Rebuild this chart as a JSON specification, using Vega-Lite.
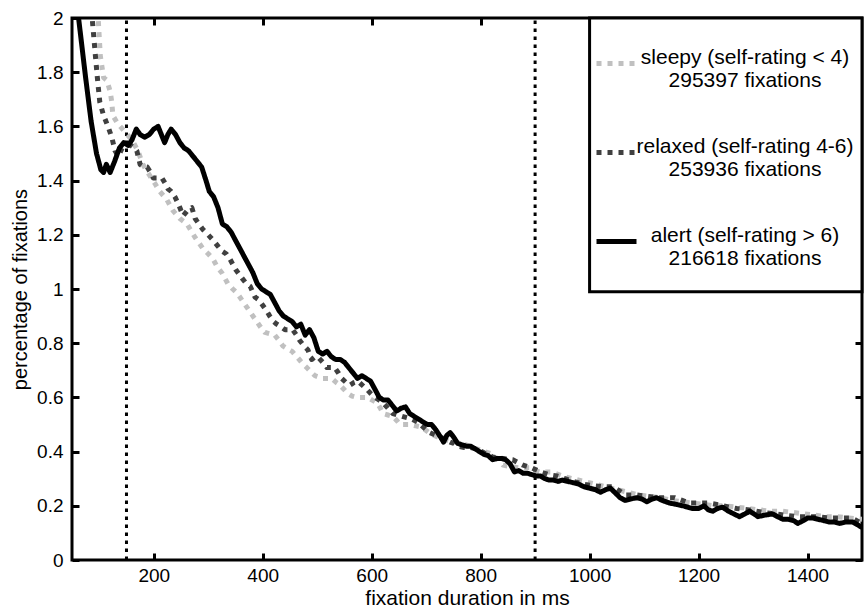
{
  "$schema": "https://vega.github.io/schema/vega-lite/v6.json",
  "width": 790,
  "height": 542,
  "autosize": {"type": "none"},
  "padding": {"left": 72, "top": 18, "right": 3, "bottom": 50},
  "background": "white",
  "config": {
    "font": "Liberation Sans",
    "view": {"stroke": "black", "strokeWidth": 3},
    "axis": {"grid": false, "domain": false, "ticks": true, "tickOpacity": 1, "tickColor": "#000000", "tickWidth": 3, "tickSize": 7, "offset": -7, "zindex": 1, "labelColor": "black", "labelFontSize": 19, "titleColor": "black", "titleFontSize": 20, "titleFontWeight": "normal", "labelFont": "Liberation Sans", "titleFont": "Liberation Sans"}
  },
  "datasets": {
    "curves": [
      {"series":"sleepy","ms":92,"pct":2.15},{"series":"sleepy","ms":98,"pct":2.0},{"series":"sleepy","ms":102,"pct":1.86},{"series":"sleepy","ms":108,"pct":1.78},{"series":"sleepy","ms":114,"pct":1.77},{"series":"sleepy","ms":120,"pct":1.73},{"series":"sleepy","ms":123,"pct":1.69},{"series":"sleepy","ms":125,"pct":1.64},{"series":"sleepy","ms":134,"pct":1.61},{"series":"sleepy","ms":147,"pct":1.58},{"series":"sleepy","ms":160,"pct":1.55},{"series":"sleepy","ms":171,"pct":1.51},{"series":"sleepy","ms":180,"pct":1.46},{"series":"sleepy","ms":189,"pct":1.43},{"series":"sleepy","ms":202,"pct":1.39},{"series":"sleepy","ms":211,"pct":1.36},{"series":"sleepy","ms":224,"pct":1.33},{"series":"sleepy","ms":235,"pct":1.29},{"series":"sleepy","ms":248,"pct":1.26},{"series":"sleepy","ms":261,"pct":1.24},{"series":"sleepy","ms":276,"pct":1.19},{"series":"sleepy","ms":290,"pct":1.15},{"series":"sleepy","ms":300,"pct":1.13},{"series":"sleepy","ms":309,"pct":1.11},{"series":"sleepy","ms":317,"pct":1.08},{"series":"sleepy","ms":325,"pct":1.06},{"series":"sleepy","ms":336,"pct":1.02},{"series":"sleepy","ms":345,"pct":1.0},{"series":"sleepy","ms":353,"pct":0.985},{"series":"sleepy","ms":365,"pct":0.95},{"series":"sleepy","ms":377,"pct":0.915},{"series":"sleepy","ms":389,"pct":0.88},{"series":"sleepy","ms":396,"pct":0.86},{"series":"sleepy","ms":404,"pct":0.84},{"series":"sleepy","ms":413,"pct":0.835},{"series":"sleepy","ms":422,"pct":0.83},{"series":"sleepy","ms":430,"pct":0.81},{"series":"sleepy","ms":437,"pct":0.79},{"series":"sleepy","ms":445,"pct":0.78},{"series":"sleepy","ms":454,"pct":0.77},{"series":"sleepy","ms":465,"pct":0.745},{"series":"sleepy","ms":473,"pct":0.725},{"series":"sleepy","ms":481,"pct":0.71},{"series":"sleepy","ms":488,"pct":0.695},{"series":"sleepy","ms":496,"pct":0.68},{"series":"sleepy","ms":503,"pct":0.675},{"series":"sleepy","ms":510,"pct":0.67},{"series":"sleepy","ms":518,"pct":0.67},{"series":"sleepy","ms":527,"pct":0.67},{"series":"sleepy","ms":535,"pct":0.655},{"series":"sleepy","ms":542,"pct":0.645},{"series":"sleepy","ms":549,"pct":0.63},{"series":"sleepy","ms":556,"pct":0.615},{"series":"sleepy","ms":564,"pct":0.605},{"series":"sleepy","ms":573,"pct":0.6},{"series":"sleepy","ms":583,"pct":0.6},{"series":"sleepy","ms":593,"pct":0.6},{"series":"sleepy","ms":601,"pct":0.59},{"series":"sleepy","ms":610,"pct":0.58},{"series":"sleepy","ms":616,"pct":0.56},{"series":"sleepy","ms":621,"pct":0.54},{"series":"sleepy","ms":630,"pct":0.535},{"series":"sleepy","ms":639,"pct":0.53},{"series":"sleepy","ms":646,"pct":0.515},{"series":"sleepy","ms":652,"pct":0.5},{"series":"sleepy","ms":661,"pct":0.5},{"series":"sleepy","ms":670,"pct":0.5},{"series":"sleepy","ms":681,"pct":0.495},{"series":"sleepy","ms":692,"pct":0.49},{"series":"sleepy","ms":705,"pct":0.47},{"series":"sleepy","ms":720,"pct":0.455},{"series":"sleepy","ms":733,"pct":0.445},{"series":"sleepy","ms":747,"pct":0.435},{"series":"sleepy","ms":756,"pct":0.435},{"series":"sleepy","ms":766,"pct":0.43},{"series":"sleepy","ms":780,"pct":0.42},{"series":"sleepy","ms":793,"pct":0.41},{"series":"sleepy","ms":807,"pct":0.4},{"series":"sleepy","ms":822,"pct":0.39},{"series":"sleepy","ms":832,"pct":0.37},{"series":"sleepy","ms":841,"pct":0.35},{"series":"sleepy","ms":855,"pct":0.345},{"series":"sleepy","ms":870,"pct":0.34},{"series":"sleepy","ms":890,"pct":0.34},{"series":"sleepy","ms":900,"pct":0.33},{"series":"sleepy","ms":908,"pct":0.325},{"series":"sleepy","ms":930,"pct":0.325},{"series":"sleepy","ms":950,"pct":0.31},{"series":"sleepy","ms":969,"pct":0.3},{"series":"sleepy","ms":990,"pct":0.29},{"series":"sleepy","ms":1010,"pct":0.28},{"series":"sleepy","ms":1030,"pct":0.27},{"series":"sleepy","ms":1050,"pct":0.26},{"series":"sleepy","ms":1070,"pct":0.25},{"series":"sleepy","ms":1090,"pct":0.24},{"series":"sleepy","ms":1110,"pct":0.235},{"series":"sleepy","ms":1130,"pct":0.23},{"series":"sleepy","ms":1150,"pct":0.22},{"series":"sleepy","ms":1170,"pct":0.215},{"series":"sleepy","ms":1190,"pct":0.21},{"series":"sleepy","ms":1210,"pct":0.205},{"series":"sleepy","ms":1230,"pct":0.2},{"series":"sleepy","ms":1250,"pct":0.2},{"series":"sleepy","ms":1270,"pct":0.195},{"series":"sleepy","ms":1290,"pct":0.19},{"series":"sleepy","ms":1312,"pct":0.185},{"series":"sleepy","ms":1333,"pct":0.18},{"series":"sleepy","ms":1354,"pct":0.18},{"series":"sleepy","ms":1375,"pct":0.175},{"series":"sleepy","ms":1395,"pct":0.17},{"series":"sleepy","ms":1415,"pct":0.165},{"series":"sleepy","ms":1435,"pct":0.16},{"series":"sleepy","ms":1454,"pct":0.16},{"series":"sleepy","ms":1475,"pct":0.155},{"series":"sleepy","ms":1500,"pct":0.15},

      {"series":"relaxed","ms":80,"pct":2.15},{"series":"relaxed","ms":87,"pct":2.0},{"series":"relaxed","ms":93,"pct":1.86},{"series":"relaxed","ms":97,"pct":1.77},{"series":"relaxed","ms":101,"pct":1.69},{"series":"relaxed","ms":108,"pct":1.64},{"series":"relaxed","ms":116,"pct":1.6},{"series":"relaxed","ms":123,"pct":1.56},{"series":"relaxed","ms":129,"pct":1.51},{"series":"relaxed","ms":135,"pct":1.49},{"series":"relaxed","ms":142,"pct":1.52},{"series":"relaxed","ms":150,"pct":1.53},{"series":"relaxed","ms":158,"pct":1.53},{"series":"relaxed","ms":165,"pct":1.52},{"series":"relaxed","ms":169,"pct":1.51},{"series":"relaxed","ms":175,"pct":1.46},{"series":"relaxed","ms":182,"pct":1.45},{"series":"relaxed","ms":188,"pct":1.45},{"series":"relaxed","ms":194,"pct":1.43},{"series":"relaxed","ms":199,"pct":1.41},{"series":"relaxed","ms":207,"pct":1.41},{"series":"relaxed","ms":215,"pct":1.41},{"series":"relaxed","ms":221,"pct":1.39},{"series":"relaxed","ms":226,"pct":1.37},{"series":"relaxed","ms":232,"pct":1.36},{"series":"relaxed","ms":239,"pct":1.34},{"series":"relaxed","ms":246,"pct":1.31},{"series":"relaxed","ms":254,"pct":1.27},{"series":"relaxed","ms":262,"pct":1.29},{"series":"relaxed","ms":270,"pct":1.3},{"series":"relaxed","ms":276,"pct":1.26},{"series":"relaxed","ms":283,"pct":1.24},{"series":"relaxed","ms":290,"pct":1.22},{"series":"relaxed","ms":300,"pct":1.2},{"series":"relaxed","ms":309,"pct":1.18},{"series":"relaxed","ms":317,"pct":1.16},{"series":"relaxed","ms":325,"pct":1.14},{"series":"relaxed","ms":333,"pct":1.13},{"series":"relaxed","ms":340,"pct":1.11},{"series":"relaxed","ms":351,"pct":1.07},{"series":"relaxed","ms":362,"pct":1.04},{"series":"relaxed","ms":370,"pct":1.02},{"series":"relaxed","ms":377,"pct":1.01},{"series":"relaxed","ms":386,"pct":0.97},{"series":"relaxed","ms":393,"pct":0.96},{"series":"relaxed","ms":400,"pct":0.94},{"series":"relaxed","ms":407,"pct":0.92},{"series":"relaxed","ms":413,"pct":0.9},{"series":"relaxed","ms":420,"pct":0.88},{"series":"relaxed","ms":426,"pct":0.87},{"series":"relaxed","ms":434,"pct":0.86},{"series":"relaxed","ms":441,"pct":0.85},{"series":"relaxed","ms":448,"pct":0.85},{"series":"relaxed","ms":455,"pct":0.85},{"series":"relaxed","ms":462,"pct":0.83},{"series":"relaxed","ms":468,"pct":0.81},{"series":"relaxed","ms":476,"pct":0.79},{"series":"relaxed","ms":483,"pct":0.775},{"series":"relaxed","ms":490,"pct":0.74},{"series":"relaxed","ms":496,"pct":0.75},{"series":"relaxed","ms":501,"pct":0.75},{"series":"relaxed","ms":510,"pct":0.73},{"series":"relaxed","ms":518,"pct":0.71},{"series":"relaxed","ms":525,"pct":0.71},{"series":"relaxed","ms":532,"pct":0.71},{"series":"relaxed","ms":539,"pct":0.69},{"series":"relaxed","ms":545,"pct":0.67},{"series":"relaxed","ms":553,"pct":0.655},{"series":"relaxed","ms":560,"pct":0.645},{"series":"relaxed","ms":568,"pct":0.655},{"series":"relaxed","ms":575,"pct":0.66},{"series":"relaxed","ms":583,"pct":0.645},{"series":"relaxed","ms":591,"pct":0.63},{"series":"relaxed","ms":598,"pct":0.615},{"series":"relaxed","ms":606,"pct":0.6},{"series":"relaxed","ms":614,"pct":0.59},{"series":"relaxed","ms":621,"pct":0.58},{"series":"relaxed","ms":630,"pct":0.56},{"series":"relaxed","ms":639,"pct":0.54},{"series":"relaxed","ms":648,"pct":0.535},{"series":"relaxed","ms":656,"pct":0.53},{"series":"relaxed","ms":665,"pct":0.525},{"series":"relaxed","ms":674,"pct":0.52},{"series":"relaxed","ms":684,"pct":0.51},{"series":"relaxed","ms":695,"pct":0.49},{"series":"relaxed","ms":707,"pct":0.47},{"series":"relaxed","ms":718,"pct":0.46},{"series":"relaxed","ms":730,"pct":0.45},{"series":"relaxed","ms":744,"pct":0.435},{"series":"relaxed","ms":751,"pct":0.43},{"series":"relaxed","ms":758,"pct":0.42},{"series":"relaxed","ms":770,"pct":0.415},{"series":"relaxed","ms":781,"pct":0.415},{"series":"relaxed","ms":793,"pct":0.41},{"series":"relaxed","ms":807,"pct":0.395},{"series":"relaxed","ms":822,"pct":0.38},{"series":"relaxed","ms":840,"pct":0.375},{"series":"relaxed","ms":859,"pct":0.37},{"series":"relaxed","ms":868,"pct":0.36},{"series":"relaxed","ms":878,"pct":0.35},{"series":"relaxed","ms":886,"pct":0.345},{"series":"relaxed","ms":894,"pct":0.34},{"series":"relaxed","ms":910,"pct":0.325},{"series":"relaxed","ms":925,"pct":0.315},{"series":"relaxed","ms":940,"pct":0.31},{"series":"relaxed","ms":955,"pct":0.3},{"series":"relaxed","ms":970,"pct":0.29},{"series":"relaxed","ms":988,"pct":0.28},{"series":"relaxed","ms":1005,"pct":0.275},{"series":"relaxed","ms":1024,"pct":0.27},{"series":"relaxed","ms":1043,"pct":0.27},{"series":"relaxed","ms":1055,"pct":0.255},{"series":"relaxed","ms":1065,"pct":0.24},{"series":"relaxed","ms":1087,"pct":0.24},{"series":"relaxed","ms":1107,"pct":0.235},{"series":"relaxed","ms":1125,"pct":0.23},{"series":"relaxed","ms":1142,"pct":0.23},{"series":"relaxed","ms":1156,"pct":0.23},{"series":"relaxed","ms":1170,"pct":0.22},{"series":"relaxed","ms":1184,"pct":0.21},{"series":"relaxed","ms":1200,"pct":0.21},{"series":"relaxed","ms":1220,"pct":0.21},{"series":"relaxed","ms":1245,"pct":0.2},{"series":"relaxed","ms":1270,"pct":0.19},{"series":"relaxed","ms":1294,"pct":0.185},{"series":"relaxed","ms":1320,"pct":0.175},{"series":"relaxed","ms":1343,"pct":0.17},{"series":"relaxed","ms":1360,"pct":0.165},{"series":"relaxed","ms":1380,"pct":0.16},{"series":"relaxed","ms":1400,"pct":0.16},{"series":"relaxed","ms":1419,"pct":0.16},{"series":"relaxed","ms":1440,"pct":0.155},{"series":"relaxed","ms":1459,"pct":0.155},{"series":"relaxed","ms":1481,"pct":0.155},{"series":"relaxed","ms":1500,"pct":0.135},

      {"series":"alert","ms":55,"pct":2.12},{"series":"alert","ms":65,"pct":1.95},{"series":"alert","ms":75,"pct":1.78},{"series":"alert","ms":85,"pct":1.62},{"series":"alert","ms":95,"pct":1.5},{"series":"alert","ms":103,"pct":1.44},{"series":"alert","ms":108,"pct":1.43},{"series":"alert","ms":113,"pct":1.46},{"series":"alert","ms":120,"pct":1.43},{"series":"alert","ms":128,"pct":1.47},{"series":"alert","ms":137,"pct":1.52},{"series":"alert","ms":145,"pct":1.54},{"series":"alert","ms":153,"pct":1.53},{"series":"alert","ms":160,"pct":1.55},{"series":"alert","ms":168,"pct":1.59},{"series":"alert","ms":175,"pct":1.57},{"series":"alert","ms":183,"pct":1.56},{"series":"alert","ms":192,"pct":1.57},{"series":"alert","ms":200,"pct":1.59},{"series":"alert","ms":208,"pct":1.6},{"series":"alert","ms":214,"pct":1.57},{"series":"alert","ms":220,"pct":1.54},{"series":"alert","ms":226,"pct":1.57},{"series":"alert","ms":232,"pct":1.59},{"series":"alert","ms":240,"pct":1.57},{"series":"alert","ms":248,"pct":1.54},{"series":"alert","ms":256,"pct":1.52},{"series":"alert","ms":264,"pct":1.51},{"series":"alert","ms":272,"pct":1.49},{"series":"alert","ms":280,"pct":1.47},{"series":"alert","ms":288,"pct":1.45},{"series":"alert","ms":296,"pct":1.4},{"series":"alert","ms":302,"pct":1.36},{"series":"alert","ms":310,"pct":1.34},{"series":"alert","ms":318,"pct":1.3},{"series":"alert","ms":326,"pct":1.24},{"series":"alert","ms":334,"pct":1.23},{"series":"alert","ms":342,"pct":1.21},{"series":"alert","ms":350,"pct":1.18},{"series":"alert","ms":358,"pct":1.15},{"series":"alert","ms":366,"pct":1.12},{"series":"alert","ms":374,"pct":1.09},{"series":"alert","ms":382,"pct":1.06},{"series":"alert","ms":390,"pct":1.02},{"series":"alert","ms":398,"pct":1.0},{"series":"alert","ms":406,"pct":0.99},{"series":"alert","ms":414,"pct":0.98},{"series":"alert","ms":422,"pct":0.95},{"series":"alert","ms":430,"pct":0.92},{"series":"alert","ms":438,"pct":0.9},{"series":"alert","ms":446,"pct":0.89},{"series":"alert","ms":454,"pct":0.88},{"series":"alert","ms":462,"pct":0.86},{"series":"alert","ms":470,"pct":0.87},{"series":"alert","ms":478,"pct":0.83},{"series":"alert","ms":486,"pct":0.85},{"series":"alert","ms":494,"pct":0.82},{"series":"alert","ms":502,"pct":0.77},{"series":"alert","ms":510,"pct":0.76},{"series":"alert","ms":518,"pct":0.77},{"series":"alert","ms":526,"pct":0.75},{"series":"alert","ms":534,"pct":0.74},{"series":"alert","ms":542,"pct":0.74},{"series":"alert","ms":550,"pct":0.73},{"series":"alert","ms":558,"pct":0.71},{"series":"alert","ms":566,"pct":0.69},{"series":"alert","ms":574,"pct":0.67},{"series":"alert","ms":582,"pct":0.68},{"series":"alert","ms":590,"pct":0.67},{"series":"alert","ms":598,"pct":0.66},{"series":"alert","ms":606,"pct":0.63},{"series":"alert","ms":614,"pct":0.6},{"series":"alert","ms":622,"pct":0.59},{"series":"alert","ms":630,"pct":0.59},{"series":"alert","ms":638,"pct":0.57},{"series":"alert","ms":646,"pct":0.55},{"series":"alert","ms":654,"pct":0.56},{"series":"alert","ms":662,"pct":0.565},{"series":"alert","ms":670,"pct":0.54},{"series":"alert","ms":678,"pct":0.53},{"series":"alert","ms":686,"pct":0.52},{"series":"alert","ms":694,"pct":0.51},{"series":"alert","ms":702,"pct":0.5},{"series":"alert","ms":710,"pct":0.5},{"series":"alert","ms":718,"pct":0.48},{"series":"alert","ms":726,"pct":0.455},{"series":"alert","ms":732,"pct":0.435},{"series":"alert","ms":738,"pct":0.46},{"series":"alert","ms":744,"pct":0.47},{"series":"alert","ms":750,"pct":0.455},{"series":"alert","ms":758,"pct":0.43},{"series":"alert","ms":766,"pct":0.425},{"series":"alert","ms":774,"pct":0.42},{"series":"alert","ms":782,"pct":0.42},{"series":"alert","ms":790,"pct":0.41},{"series":"alert","ms":798,"pct":0.4},{"series":"alert","ms":806,"pct":0.39},{"series":"alert","ms":814,"pct":0.385},{"series":"alert","ms":822,"pct":0.37},{"series":"alert","ms":830,"pct":0.375},{"series":"alert","ms":838,"pct":0.375},{"series":"alert","ms":846,"pct":0.37},{"series":"alert","ms":854,"pct":0.355},{"series":"alert","ms":862,"pct":0.325},{"series":"alert","ms":870,"pct":0.33},{"series":"alert","ms":878,"pct":0.32},{"series":"alert","ms":886,"pct":0.32},{"series":"alert","ms":894,"pct":0.315},{"series":"alert","ms":902,"pct":0.31},{"series":"alert","ms":910,"pct":0.31},{"series":"alert","ms":918,"pct":0.3},{"series":"alert","ms":926,"pct":0.295},{"series":"alert","ms":934,"pct":0.295},{"series":"alert","ms":942,"pct":0.29},{"series":"alert","ms":950,"pct":0.295},{"series":"alert","ms":960,"pct":0.29},{"series":"alert","ms":970,"pct":0.285},{"series":"alert","ms":980,"pct":0.28},{"series":"alert","ms":990,"pct":0.27},{"series":"alert","ms":1000,"pct":0.265},{"series":"alert","ms":1010,"pct":0.26},{"series":"alert","ms":1020,"pct":0.25},{"series":"alert","ms":1030,"pct":0.26},{"series":"alert","ms":1038,"pct":0.265},{"series":"alert","ms":1046,"pct":0.25},{"series":"alert","ms":1056,"pct":0.23},{"series":"alert","ms":1065,"pct":0.22},{"series":"alert","ms":1075,"pct":0.225},{"series":"alert","ms":1087,"pct":0.23},{"series":"alert","ms":1096,"pct":0.225},{"series":"alert","ms":1105,"pct":0.215},{"series":"alert","ms":1115,"pct":0.225},{"series":"alert","ms":1123,"pct":0.23},{"series":"alert","ms":1133,"pct":0.22},{"series":"alert","ms":1147,"pct":0.21},{"series":"alert","ms":1160,"pct":0.205},{"series":"alert","ms":1171,"pct":0.2},{"series":"alert","ms":1180,"pct":0.195},{"series":"alert","ms":1189,"pct":0.19},{"series":"alert","ms":1200,"pct":0.19},{"series":"alert","ms":1210,"pct":0.2},{"series":"alert","ms":1218,"pct":0.185},{"series":"alert","ms":1226,"pct":0.18},{"series":"alert","ms":1235,"pct":0.19},{"series":"alert","ms":1244,"pct":0.195},{"series":"alert","ms":1255,"pct":0.18},{"series":"alert","ms":1265,"pct":0.17},{"series":"alert","ms":1275,"pct":0.16},{"series":"alert","ms":1285,"pct":0.17},{"series":"alert","ms":1294,"pct":0.18},{"series":"alert","ms":1302,"pct":0.17},{"series":"alert","ms":1309,"pct":0.16},{"series":"alert","ms":1320,"pct":0.165},{"series":"alert","ms":1336,"pct":0.17},{"series":"alert","ms":1345,"pct":0.16},{"series":"alert","ms":1355,"pct":0.15},{"series":"alert","ms":1365,"pct":0.15},{"series":"alert","ms":1375,"pct":0.145},{"series":"alert","ms":1382,"pct":0.135},{"series":"alert","ms":1392,"pct":0.145},{"series":"alert","ms":1400,"pct":0.155},{"series":"alert","ms":1410,"pct":0.155},{"series":"alert","ms":1420,"pct":0.15},{"series":"alert","ms":1430,"pct":0.145},{"series":"alert","ms":1440,"pct":0.14},{"series":"alert","ms":1450,"pct":0.14},{"series":"alert","ms":1459,"pct":0.135},{"series":"alert","ms":1470,"pct":0.14},{"series":"alert","ms":1483,"pct":0.14},{"series":"alert","ms":1492,"pct":0.13},{"series":"alert","ms":1500,"pct":0.12}
    ],
    "markers": [{"ms": 150}, {"ms": 900}],
    "box": [{"name": "legend"}]
  },
  "resolve": {"axis": {"x": "independent", "y": "independent"}},
  "layer": [
    {
      "data": {"name": "markers"},
      "mark": {"type": "rule", "color": "black", "strokeWidth": 3, "strokeDash": [3.5, 4.5]},
      "encoding": {
        "x": {"field": "ms", "type": "quantitative", "scale": {"domain": [50, 1500], "nice": false, "zero": false},
              "axis": {"orient": "bottom", "values": [200, 400, 600, 800, 1000, 1200, 1400], "format": "d", "labelPadding": 6, "title": "fixation duration in ms", "titleFontSize": 21, "titlePadding": 2}},
        "y": {"datum": 0, "type": "quantitative", "scale": {"domain": [0, 2], "nice": false, "zero": false},
              "axis": {"orient": "left", "values": [0, 0.2, 0.4, 0.6, 0.8, 1, 1.2, 1.4, 1.6, 1.8, 2], "format": "~g", "labelPadding": 9, "title": "percentage of fixations", "titlePadding": 6}},
        "y2": {"datum": 2}
      }
    },
    {
      "data": {"name": "curves"},
      "mark": {"type": "line", "strokeWidth": 5, "clip": true, "strokeJoin": "round"},
      "encoding": {
        "x": {"field": "ms", "type": "quantitative", "axis": null},
        "y": {"field": "pct", "type": "quantitative", "axis": null},
        "color": {"field": "series", "type": "nominal",
                  "scale": {"domain": ["sleepy", "relaxed", "alert"], "range": ["#c0c0c0", "#404040", "#000000"]},
                  "legend": {"orient": "none", "legendX": 522, "legendY": 23, "title": null, "symbolType": "stroke", "symbolSize": 1600, "symbolStrokeWidth": 5, "labelFontSize": 21, "labelColor": "black", "labelAlign": "center", "labelBaseline": "alphabetic", "labelOffset": 106, "labelLimit": 500, "rowPadding": 39, "padding": 0,
                             "labelExpr": "datum.label == 'sleepy' ? ['sleepy (self-rating < 4)', '295397 fixations'] : datum.label == 'relaxed' ? ['relaxed (self-rating 4-6)', '253936 fixations'] : ['alert (self-rating > 6)', '216618 fixations']"}},
        "strokeDash": {"field": "series", "type": "nominal",
                  "scale": {"domain": ["sleepy", "relaxed", "alert"], "range": [[5, 6], [5, 6], [1, 0]]},
                  "legend": {"orient": "none", "legendX": 522, "legendY": 23, "title": null, "symbolType": "stroke", "symbolSize": 1600, "symbolStrokeWidth": 5, "labelFontSize": 21, "labelColor": "black", "labelAlign": "center", "labelBaseline": "alphabetic", "labelOffset": 106, "labelLimit": 500, "rowPadding": 39, "padding": 0,
                             "labelExpr": "datum.label == 'sleepy' ? ['sleepy (self-rating < 4)', '295397 fixations'] : datum.label == 'relaxed' ? ['relaxed (self-rating 4-6)', '253936 fixations'] : ['alert (self-rating > 6)', '216618 fixations']"}}
      }
    },
    {
      "data": {"name": "box"},
      "mark": {"type": "rect", "fill": "white", "stroke": "black", "strokeWidth": 3},
      "encoding": {
        "x": {"datum": 1000, "type": "quantitative", "axis": {"orient": "top", "values": [200, 400, 600, 800, 1000, 1200, 1400], "labels": false, "title": null}},
        "x2": {"datum": 1500},
        "y": {"datum": 0.99, "type": "quantitative", "axis": {"orient": "right", "values": [0, 0.2, 0.4, 0.6, 0.8, 1, 1.2, 1.4, 1.6, 1.8, 2], "labels": false, "title": null}},
        "y2": {"datum": 2}
      }
    }
  ]
}
